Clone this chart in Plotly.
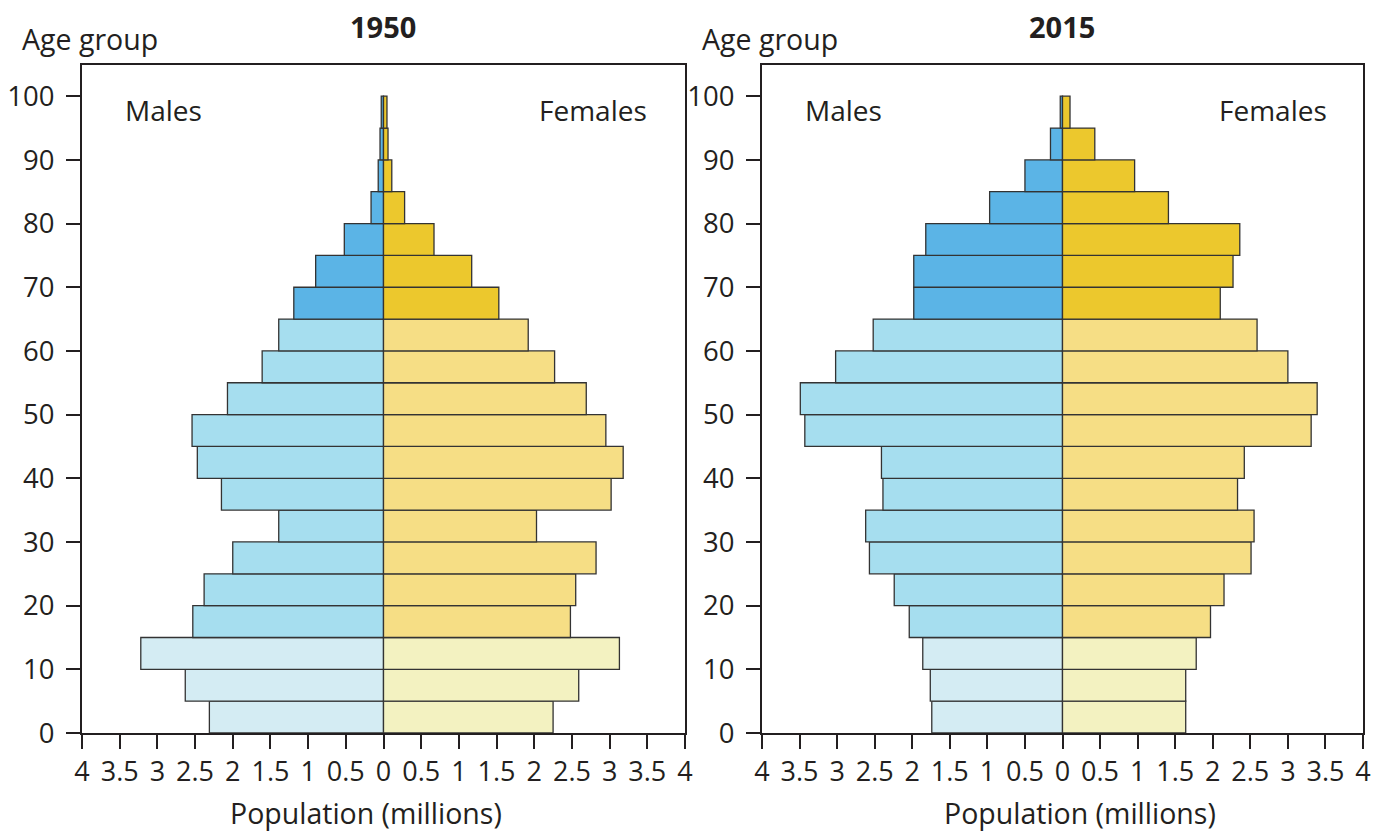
import plotly.graph_objects as go

ages = [2.5, 7.5, 12.5, 17.5, 22.5, 27.5, 32.5, 37.5, 42.5, 47.5,
        52.5, 57.5, 62.5, 67.5, 72.5, 77.5, 82.5, 87.5, 92.5, 97.5]

male_1950 = [2.31, 2.63, 3.22, 2.53, 2.38, 2.0, 1.39, 2.15, 2.47, 2.54,
             2.07, 1.61, 1.39, 1.19, 0.90, 0.52, 0.165, 0.07, 0.046, 0.03]
female_1950 = [2.25, 2.59, 3.13, 2.48, 2.55, 2.82, 2.03, 3.02, 3.18, 2.95,
               2.69, 2.27, 1.92, 1.53, 1.17, 0.67, 0.28, 0.11, 0.06, 0.046]
male_2015 = [1.74, 1.76, 1.86, 2.04, 2.24, 2.57, 2.62, 2.39, 2.41, 3.43,
             3.49, 3.02, 2.52, 1.98, 1.98, 1.82, 0.97, 0.50, 0.16, 0.03]
female_2015 = [1.64, 1.64, 1.78, 1.97, 2.15, 2.51, 2.55, 2.33, 2.42, 3.31,
               3.39, 3.00, 2.59, 2.10, 2.27, 2.36, 1.41, 0.96, 0.43, 0.10]

x_tickvals = [-4, -3.5, -3, -2.5, -2, -1.5, -1, -0.5, 0, 0.5, 1, 1.5, 2, 2.5, 3, 3.5, 4]
x_ticktext = ["4", "3.5", "3", "2.5", "2", "1.5", "1", "0.5", "0", "0.5", "1", "1.5", "2", "2.5", "3", "3.5", "4"]
y_tickvals = [0, 10, 20, 30, 40, 50, 60, 70, 80, 90, 100]

male_cols = ["#d4ecf3"] * 3 + ["#a6deef"] * 10 + ["#5bb4e6"] * 7
female_cols = ["#f3f2c1"] * 3 + ["#f6de85"] * 10 + ["#ecc82d"] * 7

FONT = "Open Sans"
INK = "#231f20"

fig = go.Figure()
for i, (m, f) in enumerate([(male_1950, female_1950), (male_2015, female_2015)]):
    xa = "x" if i == 0 else "x2"
    ya = "y" if i == 0 else "y2"
    fig.add_trace(go.Bar(y=ages, x=[-v for v in m], orientation="h", width=5,
                         marker=dict(color=male_cols, line=dict(color="#333333", width=1.3)),
                         xaxis=xa, yaxis=ya, showlegend=False, hoverinfo="skip"))
    fig.add_trace(go.Bar(y=ages, x=f, orientation="h", width=5,
                         marker=dict(color=female_cols, line=dict(color="#333333", width=1.3)),
                         xaxis=xa, yaxis=ya, showlegend=False, hoverinfo="skip"))

axis_common_x = dict(range=[-4, 4], tickvals=x_tickvals, ticktext=x_ticktext,
                     ticks="outside", ticklen=14, tickwidth=1.5, tickcolor=INK,
                     showline=True, linecolor=INK, linewidth=2, mirror=True,
                     showgrid=False, zeroline=False, automargin=False,
                     tickfont=dict(family=FONT, size=27, color=INK))
axis_common_y = dict(range=[0, 104.9], tickvals=y_tickvals,
                     ticks="outside", ticklen=14, tickwidth=1.5, tickcolor=INK,
                     showline=True, linecolor=INK, linewidth=2, mirror=True,
                     showgrid=False, zeroline=False, automargin=False,
                     ticklabelstandoff=6,
                     tickfont=dict(family=FONT, size=27.5, color=INK))

W, H = 1375, 832
L = 82
T = 65
B = H - 733
R = W - 1363
pw = W - L - R
d1 = [0, (685 - 82) / pw]
d2 = [(762 - 82) / pw, 1]

fig.update_layout(
    width=W, height=H,
    margin=dict(l=L, r=R, t=T, b=B, autoexpand=False),
    paper_bgcolor="white", plot_bgcolor="white",
    barmode="overlay",
    xaxis=dict(domain=d1, anchor="y", **axis_common_x),
    yaxis=dict(domain=[0, 1], anchor="x", **axis_common_y),
    xaxis2=dict(domain=d2, anchor="y2", **axis_common_x),
    yaxis2=dict(domain=[0, 1], anchor="x2", **axis_common_y),
)

ph = H - T - B
def py(ypix):
    return (H - B - ypix) / ph
def px(xpix):
    return (xpix - L) / pw

def txt(text, x, y, size, xref="paper", yref="paper", xanchor="center"):
    return dict(text=text, x=x, y=y, xref=xref, yref=yref, showarrow=False,
                font=dict(family=FONT, size=size, color=INK), xanchor=xanchor, yanchor="middle")

annots = [
    txt("<b>1950</b>", px(383), py(27), 29),
    txt("<b>2015</b>", px(1062), py(27), 29),
    txt("Age group", px(20), py(39), 28.5, xanchor="left"),
    txt("Age group", px(700), py(39), 28.5, xanchor="left"),
    txt("Population (millions)", px(366), py(813), 28.5),
    txt("Population (millions)", px(1080), py(813), 28.5),
    txt("Males", -2.92, 97.8, 28, "x", "y"),
    txt("Females", 2.78, 97.8, 28, "x", "y"),
    txt("Males", -2.92, 97.8, 28, "x2", "y2"),
    txt("Females", 2.8, 97.8, 28, "x2", "y2"),
]
fig.update_layout(annotations=annots)

fig.write_html("out.html", config={"displayModeBar": False},
               post_script="document.body.style.margin='0';document.body.style.overflow='hidden';")
